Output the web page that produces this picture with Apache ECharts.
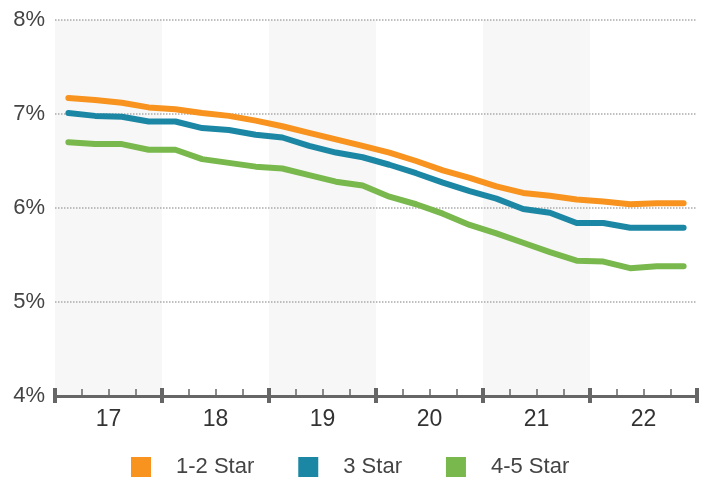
<!DOCTYPE html>
<html>
<head>
<meta charset="utf-8">
<script src="https://cdn.jsdelivr.net/npm/echarts@6/dist/echarts.min.js"></script>
<style>html,body{margin:0;padding:0;background:#fff;}#c{width:712px;height:480px;}</style>
</head>
<body>
<div id="c"></div>
<script>
var years = ['17', '18', '19', '20', '21', '22'];
var quarters = [];
years.forEach(function (y) { ['Q1', 'Q2', 'Q3', 'Q4'].forEach(function (q) { quarters.push(y + ' ' + q); }); });
var yTicks = [4, 5, 6, 7, 8];
var star12 = [7.17, 7.15, 7.12, 7.07, 7.05, 7.01, 6.98, 6.93, 6.87, 6.80, 6.73, 6.66, 6.59, 6.50, 6.40, 6.32, 6.23, 6.16, 6.13, 6.09, 6.07, 6.04, 6.05, 6.05];
var star3 = [7.01, 6.98, 6.97, 6.92, 6.92, 6.85, 6.83, 6.78, 6.75, 6.66, 6.59, 6.54, 6.46, 6.37, 6.27, 6.18, 6.10, 5.99, 5.95, 5.84, 5.84, 5.79, 5.79, 5.79];
var star45 = [6.70, 6.68, 6.68, 6.62, 6.62, 6.52, 6.48, 6.44, 6.42, 6.35, 6.28, 6.24, 6.12, 6.04, 5.94, 5.82, 5.73, 5.63, 5.53, 5.44, 5.43, 5.36, 5.38, 5.38];
var names = ['1-2 Star', '3 Star', '4-5 Star'];
var colors = ['#f7931e', '#1c87a5', '#79b84c'];

var chart = echarts.init(document.getElementById('c'));
var font = 'Liberation Sans, Arial, sans-serif';
chart.setOption({
  animation: false,
  grid: { left: 55, right: 15, top: 20, bottom: 84 },
  legend: {
    data: names.map(function (n) { return { name: n, icon: 'rect' }; }),
    left: 126, top: 451,
    itemWidth: 20, itemHeight: 20, itemGap: 44,
    textStyle: { fontSize: 22, color: '#444', fontFamily: font, padding: [0, 0, 0, 20] }
  },
  xAxis: [
    {
      type: 'category', data: quarters, boundaryGap: true, position: 'bottom', z: 3,
      axisLine: { show: true, lineStyle: { color: '#666', width: 3 } },
      axisTick: { show: true, inside: true, length: 7, interval: 0, lineStyle: { color: '#666', width: 1.5 } },
      axisLabel: { show: false }, splitLine: { show: false }
    },
    {
      type: 'category', data: years, boundaryGap: true, position: 'bottom', z: 0,
      axisLine: { show: false },
      axisTick: { show: true, inside: false, length: 7, lineStyle: { color: '#666', width: 4 } },
      axisLabel: { show: true, fontSize: 23, color: '#333', fontFamily: font, margin: 12 },
      splitArea: { show: true, areaStyle: { color: ['#f7f7f7', 'rgba(255,255,255,0)'] } },
      splitLine: { show: false }
    },
    {
      type: 'category', data: years, boundaryGap: true, position: 'bottom', z: 3,
      axisLine: { show: false },
      axisTick: { show: true, inside: true, length: 8, lineStyle: { color: '#666', width: 4 } },
      axisLabel: { show: false }, splitLine: { show: false }
    }
  ],
  yAxis: {
    type: 'value', min: yTicks[0], max: yTicks[yTicks.length - 1], interval: 1, z: 1,
    axisLine: { show: false }, axisTick: { show: false },
    axisLabel: { formatter: '{value}%', fontSize: 22, color: '#444', fontFamily: font, margin: 10 },
    splitLine: { show: true, lineStyle: { color: '#aaa', type: 'dotted', width: 1.5 } }
  },
  series: [star12, star3, star45].map(function (d, i) {
    return {
      name: names[i], type: 'line', data: d, xAxisIndex: 0, z: 4,
      symbol: 'none', color: colors[i],
      lineStyle: { width: 6, color: colors[i], cap: 'round', join: 'round' }
    };
  })
});
</script>
</body>
</html>
